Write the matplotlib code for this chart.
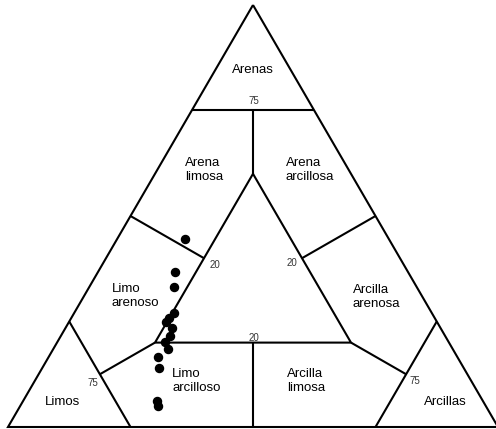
import matplotlib
matplotlib.use("Agg")
import matplotlib.pyplot as plt
import numpy as np

plt.rcParams['font.family'] = ['Liberation Sans', 'DejaVu Sans']

# Sample composition (%)
arena = [44.5, 36.7, 33.2, 27.0, 25.8, 24.9, 23.5, 21.6, 20.1, 18.5, 16.6, 14.0, 6.2, 5.0]
arcilla = [13.9, 15.7, 17.3, 20.4, 19.9, 19.8, 21.7, 22.3, 22.0, 23.4, 22.3, 23.8, 27.3, 28.1]
limo = [100 - a - c for a, c in zip(arena, arcilla)]

# Shepard classification boundary segments: (sand, silt, clay) fractions
segments = [
    [(1, 0, 0), (0, 1, 0), (0, 0, 1), (1, 0, 0)],
    [(0.75, 0.25, 0), (0.75, 0, 0.25)],
    [(0.25, 0.75, 0), (0, 0.75, 0.25)],
    [(0.25, 0, 0.75), (0, 0.25, 0.75)],
    [(0.6, 0.2, 0.2), (0.2, 0.6, 0.2), (0.2, 0.2, 0.6), (0.6, 0.2, 0.2)],
    [(0.75, 0.125, 0.125), (0.6, 0.2, 0.2)],
    [(0.2, 0.4, 0.4), (0, 0.5, 0.5)],
    [(0.5, 0.5, 0), (0.4, 0.4, 0.2)],
    [(0.2, 0.2, 0.6), (0.125, 0.125, 0.75)],
    [(0.5, 0, 0.5), (0.4, 0.2, 0.4)],
    [(0.2, 0.6, 0.2), (0.125, 0.75, 0.125)],
]

def tern(sand, clay):
    sand = np.asarray(sand, float)
    clay = np.asarray(clay, float)
    return clay + sand / 2, sand

fig = plt.figure(figsize=(4.96, 4.29), dpi=100)
ax = fig.add_axes([0, 0, 1, 1])
ax.set_xlim(-8 / 490, 488 / 490)
ax.set_ylim(-2 / 422, 427 / 422)
ax.axis('off')

for seg in segments:
    s = [p[0] for p in seg]
    c = [p[2] for p in seg]
    x, y = tern(s, c)
    ax.plot(x, y, color='black', lw=1.5, solid_capstyle='butt', solid_joinstyle='miter')

xs, ys = tern(np.array(arena) / 100, np.array(arcilla) / 100)
ax.plot(xs, ys, 'o', color='black', ms=5.8, ls='none')

big = 9.5
small = 7.0
ax.text(0.5, 0.846, 'Arenas', ha='center', va='center', fontsize=big)
ax.text(0.361, 0.609, 'Arena\nlimosa', ha='left', va='center', fontsize=big)
ax.text(0.567, 0.609, 'Arena\narcillosa', ha='left', va='center', fontsize=big)
ax.text(0.212, 0.310, 'Limo\narenoso', ha='left', va='center', fontsize=big)
ax.text(0.704, 0.308, 'Arcilla\narenosa', ha='left', va='center', fontsize=big)
ax.text(0.335, 0.109, 'Limo\narcilloso', ha='left', va='center', fontsize=big)
ax.text(0.569, 0.109, 'Arcilla\nlimosa', ha='left', va='center', fontsize=big)
ax.text(0.112, 0.059, 'Limos', ha='center', va='center', fontsize=big)
ax.text(0.892, 0.059, 'Arcillas', ha='center', va='center', fontsize=big)

ax.text(0.502, 0.7725, '75', ha='center', va='center', fontsize=small, color='#333333')
ax.text(0.1735, 0.104, '75', ha='center', va='center', fontsize=small, color='#333333')
ax.text(0.8306, 0.109, '75', ha='center', va='center', fontsize=small, color='#333333')
ax.text(0.4224, 0.384, '20', ha='center', va='center', fontsize=small, color='#333333')
ax.text(0.5796, 0.389, '20', ha='center', va='center', fontsize=small, color='#333333')
ax.text(0.502, 0.211, '20', ha='center', va='center', fontsize=small, color='#333333')

fig.savefig('out.png', dpi=100)
